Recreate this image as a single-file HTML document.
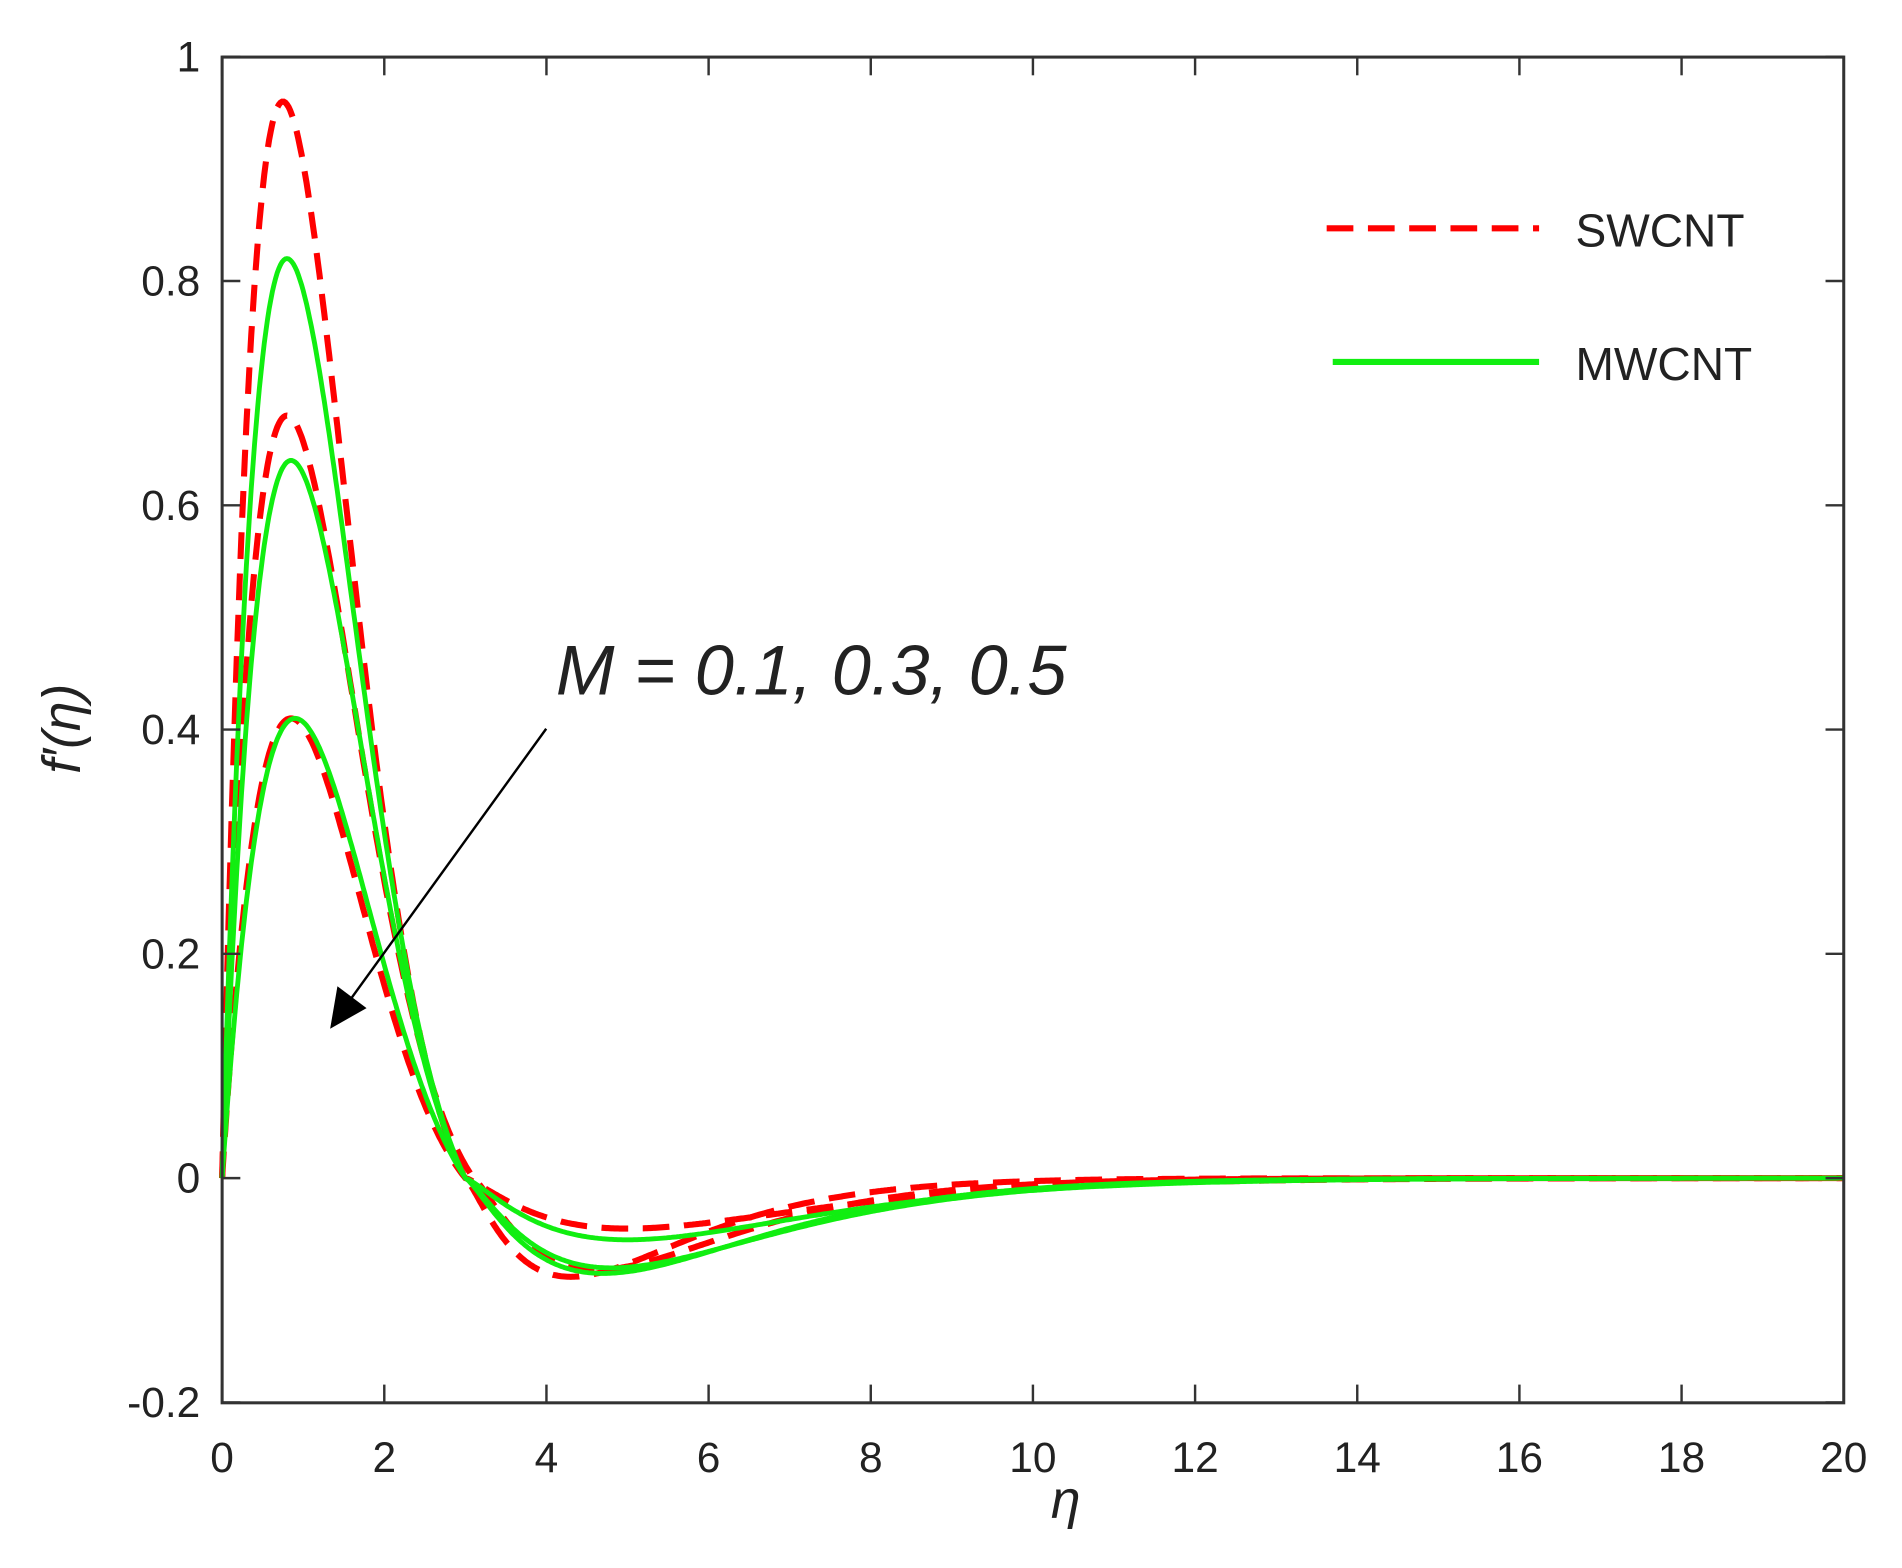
<!DOCTYPE html>
<html><head><meta charset="utf-8"><style>
html,body{margin:0;padding:0;background:#fff;}
svg{display:block;}
text{font-family:"Liberation Sans",Arial,sans-serif;fill:#222;}
</style></head><body>
<svg id="s" width="1902" height="1568" viewBox="0 0 1567 1291" preserveAspectRatio="none" xmlns="http://www.w3.org/2000/svg">
<rect x="0" y="0" width="1567" height="1291" fill="#fff"/>
<g id="curves"></g>
<rect x="183" y="47" width="1336" height="1108" fill="none" stroke="#333" stroke-width="2.5"/>
<g id="ticks" stroke="#333" stroke-width="2"></g>
<g id="labels" font-size="35" fill="#222"></g>
<text x="878" y="1250" font-size="44" font-style="italic" font-family="Liberation Serif,serif" text-anchor="middle">η</text>
<text transform="translate(66,600) rotate(-90)" font-size="44" font-style="italic" font-family="Liberation Serif,serif" text-anchor="middle">f′(η)</text>
<text x="458" y="572" font-size="58" font-style="italic">M = 0.1, 0.3, 0.5</text>
<line x1="450" y1="600" x2="285" y2="828" stroke="#000" stroke-width="2"/>
<polygon points="272,847 278,812 302,830" fill="#000"/>
<line x1="1093" y1="188" x2="1268" y2="188" stroke="#f00" stroke-width="5" stroke-dasharray="22,12"/>
<text x="1298" y="203" font-size="38">SWCNT</text>
<line x1="1098" y1="298" x2="1268" y2="298" stroke="#1e1" stroke-width="5"/>
<text x="1298" y="313" font-size="38">MWCNT</text>
</svg>
<script>
var NS="http://www.w3.org/2000/svg";
function el(t,a,p){var e=document.createElementNS(NS,t);for(var k in a)e.setAttribute(k,a[k]);p.appendChild(e);return e;}
var px=function(x){return 183+x*66.8;}, py=function(y){return 970-y*923.3;};
var t=document.getElementById("ticks"), L=document.getElementById("labels");
for(var i=0;i<=20;i+=2){var x=px(i);el("line",{x1:x,y1:1155,x2:x,y2:1140},t);el("line",{x1:x,y1:47,x2:x,y2:62},t);
 var tx=el("text",{x:x,y:1212,"text-anchor":"middle"},L);tx.textContent=i;}
for(var j=-2;j<=10;j+=2){var v=j/10,y=py(v);el("line",{x1:183,y1:y,x2:198,y2:y},t);el("line",{x1:1519,y1:y,x2:1504,y2:y},t);
 var ty=el("text",{x:165,y:y+12,"text-anchor":"end"},L);ty.textContent=(v==1?"1":v==0?"0":v.toFixed(1));}
var C=document.getElementById("curves");
var sets=[[.96,.75,3.0,.088,4.3,"r"],[.68,.8,3.1,.082,4.6,"r"],[.41,.85,3.0,.045,5.0,"r"],[.82,.8,3.0,.085,4.7,"g"],[.64,.85,3.0,.08,4.8,"g"],[.41,.9,3.0,.055,5.0,"g"]];
sets.forEach(function(s){var w=Math.PI/s[2],k=w/Math.tan(w*s[1]);var pk=Math.sin(w*s[1])*Math.exp(-k*s[1]);var A=s[0]/pk;
 var d="";for(var e=0;e<=20.0001;e+=0.02){var f;
  if(e<=s[2]) f=A*Math.sin(w*e)*Math.exp(-k*e);
  else {var tt=(e-s[2])/(s[4]-s[2]); f=-s[3]*Math.pow(tt,1.3)*Math.exp(1.3*(1-tt));}
  d+=(e==0?"M":"L")+px(e).toFixed(1)+","+py(f).toFixed(1)+" ";}
 if(s[5]=="r")el("path",{d:d,fill:"none",stroke:"#f00","stroke-width":5,"stroke-dasharray":"22,12"},C);
 else el("path",{d:d,fill:"none",stroke:"#1e1","stroke-width":4},C);});
</script>
</body></html>
